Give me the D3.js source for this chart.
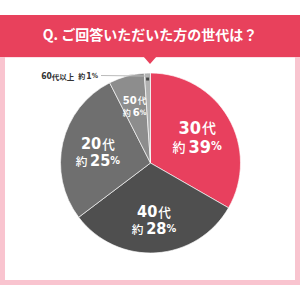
<!DOCTYPE html>
<html><head><meta charset="utf-8">
<script src="https://cdn.jsdelivr.net/npm/d3@7"></script>
<style>html,body{margin:0;padding:0;background:#fff;}svg{display:block;}</style>
</head><body>
<svg id="c" width="300" height="300"></svg>
<script>
const title = "Q. ご回答いただいた方の世代は？";
const ages = ["30", "40", "20", "50", "60"];
const ageSuffix = ["代", "代", "代", "代", "代以上"];
const percentLabels = [39, 28, 25, 6, 1];
// slice sizes as drawn in the picture (angles)
const sliceShares = [33.3, 31.4, 27.8, 6.4, 1.1];
const sliceColors = ["#e8405e", "#4f4f4f", "#6f6f6f", "#8d8d8d", "#b0b0b0"];

const svg = d3.select("#c");
const W = 300;
const numFont = "'DejaVu Sans Condensed','DejaVu Sans','Noto Sans CJK JP',sans-serif";
const jpFont = "'Noto Sans CJK JP',sans-serif";

// frame
svg.append("rect").attr("x", 2.5).attr("y", 55).attr("width", 295).attr("height", 227.5)
  .attr("fill", "#fff").attr("stroke", "#f9c4cf").attr("stroke-width", 5);
// header
svg.append("rect").attr("x", 0).attr("y", 15).attr("width", W).attr("height", 42).attr("fill", "#e8415c");
svg.append("path").attr("d", "M143,56 L157,56 L150,64 Z").attr("fill", "#e8415c");
svg.append("text").attr("x", 150).attr("y", 34).attr("text-anchor", "middle")
  .attr("dominant-baseline", "central").attr("fill", "#fff")
  .attr("font-family", jpFont).attr("font-weight", 700).attr("font-size", 14)
  .text(title);

const cx = 150.5, cy = 163, R = 90;
const g = svg.append("g").attr("transform", `translate(${cx},${cy})`);
const pie = d3.pie().sort(null).value(d => d.share);
const data = ages.map((a, i) => ({age: a, suf: ageSuffix[i], pct: percentLabels[i], share: sliceShares[i], color: sliceColors[i]}));
const arcs = pie(data);
const arc = d3.arc().innerRadius(0).outerRadius(R);

g.selectAll("path.s").data(arcs).enter().append("path").attr("class", "s")
  .attr("d", arc).attr("fill", d => d.data.color)
  .attr("stroke", "#fff").attr("stroke-opacity", 0.8).attr("stroke-width", 0.8);

const labelRatio = [0.6, 0.62, 0.6, 0.66];
const big = [1, 0.9, 0.9, 0.62];
arcs.slice(0, 4).forEach((d, i) => {
  const la = d3.arc().innerRadius(R * labelRatio[i]).outerRadius(R * labelRatio[i]);
  const [x, y] = la.centroid(d);
  const s = big[i];
  const t1 = g.append("text").attr("x", x).attr("y", y - 9 * s).attr("text-anchor", "middle")
    .attr("dominant-baseline", "central").attr("fill", "#fff");
  t1.append("tspan").attr("font-family", numFont).attr("font-weight", 700).attr("font-size", 18 * s).text(d.data.age);
  t1.append("tspan").attr("font-family", jpFont).attr("font-weight", 500).attr("font-size", 14 * s).attr("dx", 1).text(d.data.suf);
  const t2 = g.append("text").attr("x", x).attr("y", y + 10 * s).attr("text-anchor", "middle")
    .attr("dominant-baseline", "central").attr("fill", "#fff");
  t2.append("tspan").attr("font-family", jpFont).attr("font-weight", 500).attr("font-size", 13 * s).text("約");
  t2.append("tspan").attr("font-family", numFont).attr("font-weight", 700).attr("font-size", 18 * s).attr("dx", 3 * s).text(d.data.pct);
  t2.append("tspan").attr("font-family", numFont).attr("font-weight", 700).attr("font-size", 12 * s).text("%");
});

// small slice callout
const last = arcs[4];
const mid = (last.startAngle + last.endAngle) / 2;
const px = cx + Math.sin(mid) * (R - 6), py = cy - Math.cos(mid) * (R - 6);
svg.append("rect").attr("x", px - 1.5).attr("y", py - 1.5).attr("width", 3).attr("height", 3).attr("fill", "#444");
svg.append("line").attr("x1", 101).attr("y1", 75.5).attr("x2", px).attr("y2", py - 3)
  .attr("stroke", "#bbb").attr("stroke-width", 1);
const t3 = svg.append("text").attr("x", 98).attr("y", 76).attr("text-anchor", "end")
  .attr("dominant-baseline", "central").attr("fill", "#333");
t3.append("tspan").attr("font-family", numFont).attr("font-weight", 700).attr("font-size", 8.5).text(last.data.age);
t3.append("tspan").attr("font-family", jpFont).attr("font-weight", 700).attr("font-size", 7.5).text(last.data.suf);
t3.append("tspan").attr("font-family", jpFont).attr("font-weight", 700).attr("font-size", 7).attr("dx", 4).text("約");
t3.append("tspan").attr("font-family", numFont).attr("font-weight", 700).attr("font-size", 8.5).attr("dx", 1).text(last.data.pct);
t3.append("tspan").attr("font-family", numFont).attr("font-weight", 700).attr("font-size", 7).text("%");
</script>
</body></html>
